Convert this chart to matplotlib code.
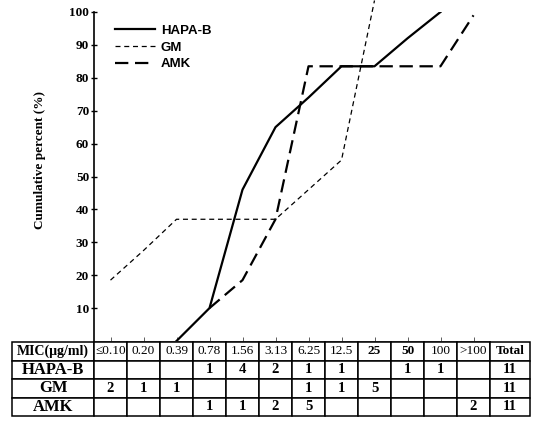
import matplotlib
matplotlib.use("Agg")
from matplotlib import pyplot as plt

mic_labels = ["≤0.10", "0.20", "0.39", "0.78", "1.56", "3.13", "6.25",
              "12.5", "25", "50", "100", ">100"]

# cumulative percent (index = MIC column)
hapa_x = [2, 3, 4, 5, 6, 7, 8, 9, 10]
hapa_y = [0, 10, 46, 65, 74, 83.5, 83.5, 92, 100]
gm_x = [0, 1, 2, 3, 4, 5, 6, 7, 8]
gm_y = [18.5, 27.5, 37, 37, 37, 37, 46, 55, 103.5]
amk_x = [3, 4, 5, 6, 7, 8, 9, 10, 11]
amk_y = [10, 18.5, 37, 83.5, 83.5, 83.5, 83.5, 83.5, 99]

# counts table
hapa_counts = ["", "", "", "1", "4", "2", "1", "1", "", "1", "1", "", "11"]
gm_counts = ["2", "1", "1", "", "", "", "1", "1", "5", "", "", "", "11"]
amk_counts = ["", "", "", "1", "1", "2", "5", "", "", "", "", "2", "11"]

serif = ["Liberation Serif", "DejaVu Serif"]

W, H = 538, 429
fig = plt.figure(figsize=(W / 100, H / 100), dpi=100)

ax = fig.add_axes([94 / W, 1 - 341 / H, 396 / W, 329 / H])
ax.plot(hapa_x, hapa_y, color="black", lw=1.6, label="HAPA-B")
ax.plot(gm_x, gm_y, color="black", lw=0.9, linestyle=(0, (4, 3)),
        label="GM", clip_on=False)
ax.plot(amk_x, amk_y, color="black", lw=1.6, linestyle=(0, (6, 3)),
        label="AMK", clip_on=False)

ax.set_xlim(-0.5, 11.5)
ax.set_ylim(0, 100)
ax.set_yticks(range(10, 101, 10))
ax.set_xticks(range(12))
ax.set_xticklabels([])
ax.spines["right"].set_color("none")
ax.spines["top"].set_color("none")
ax.spines["left"].set_linewidth(1.2)
ax.spines["bottom"].set_linewidth(0.6)
ax.spines["bottom"].set_color("#444444")
ax.tick_params(axis="y", direction="inout", length=5, width=1.0, pad=1)
ax.tick_params(axis="x", direction="in", length=3, width=0.6, color="#444444")
for t in ax.get_yticklabels():
    t.set_family(serif)
    t.set_fontweight("bold")
    t.set_fontsize(9.5)
ax.set_ylabel("Cumulative percent (%)", family=serif, fontweight="bold",
              fontsize=9.5)
ax.yaxis.set_label_coords(-0.12, 0.55)

leg = ax.legend(loc="upper left", bbox_to_anchor=(0.03, 0.99), frameon=False,
                handlelength=3.0, handletextpad=0.45, labelspacing=0.35,
                borderpad=0.2, prop={"family": "Liberation Sans",
                                      "weight": "bold", "size": 9.5})

# table under the plot
tax = fig.add_axes([12 / W, 1 - 416 / H, 518 / W, 74 / H])
tax.axis("off")
header = ["MIC(μg/ml)"] + mic_labels + ["Total"]
rows = [header,
        ["HAPA-B"] + hapa_counts,
        ["GM"] + gm_counts,
        ["AMK"] + amk_counts]
widths = [82] + [33] * 12 + [40]
widths = [w / sum(widths) for w in widths]
tbl = tax.table(cellText=rows, colWidths=widths, bbox=[0, 0, 1, 1],
                cellLoc="center")
tbl.auto_set_font_size(False)
for (r, c), cell in tbl.get_celld().items():
    cell.set_linewidth(1.1)
    cell.set_edgecolor("black")
    txt = cell.get_text()
    txt.set_family(serif)
    if r == 0:
        txt.set_fontsize(9.5 if c > 0 else 10)
        txt.set_fontweight("bold" if c in (0, 9, 10, 13) else "normal")
    elif c == 0:
        txt.set_fontsize(12)
        txt.set_fontweight("bold")
    else:
        txt.set_fontsize(10.5)
        txt.set_fontweight("bold")

fig.savefig("out.png", dpi=100)
